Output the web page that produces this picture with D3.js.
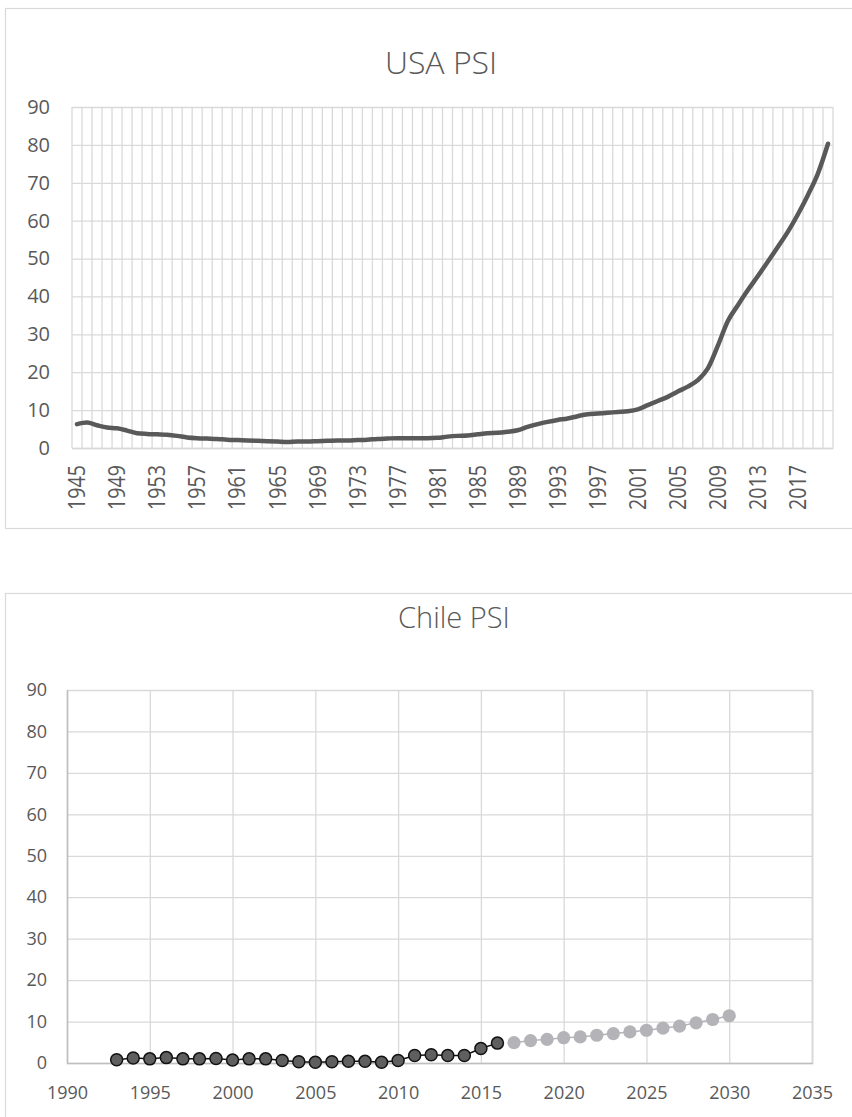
<!DOCTYPE html>
<html>
<head>
<meta charset="utf-8">
<script src="https://cdn.jsdelivr.net/npm/d3@7"></script>
<style>
  html, body { margin: 0; padding: 0; background: #fff; }
  svg { display: block; }
  text { font-family: "Open Sans", "DejaVu Sans", sans-serif; fill: #595959; }
</style>
</head>
<body>
<svg id="chart" width="852" height="1117"></svg>
<script>
// USA PSI, yearly 1945–2020
const usaYears = d3.range(1945, 2021);
const usaValues = [
  6.3, 6.7, 6.0, 5.4, 5.2, 4.6, 3.9, 3.7, 3.6, 3.5,
  3.2, 2.8, 2.6, 2.5, 2.4, 2.2, 2.1, 2.0, 1.9, 1.8,
  1.7, 1.6, 1.7, 1.7, 1.8, 1.9, 2.0, 2.0, 2.1, 2.2,
  2.4, 2.5, 2.6, 2.6, 2.6, 2.6, 2.7, 3.0, 3.2, 3.3,
  3.6, 3.9, 4.0, 4.3, 4.7, 5.6, 6.3, 6.9, 7.4, 7.8,
  8.4, 8.9, 9.1, 9.3, 9.5, 9.7, 10.2, 11.3, 12.4, 13.5,
  14.9, 16.2, 17.9, 21.0, 27.0, 33.5, 37.7, 41.7, 45.4, 49.2,
  53.1, 57.1, 61.7, 66.8, 72.5, 80.3
];
const usaTickYears = d3.range(1945, 2021, 4);
const usaYTicks = d3.range(0, 91, 10);

// Chile PSI: observed 1993–2016, projected 2017–2030
const chileYears = d3.range(1993, 2017);
const chileValues = [
  0.8, 1.2, 1.0, 1.3, 1.0, 1.0, 1.1, 0.7, 1.0, 1.0,
  0.6, 0.3, 0.2, 0.3, 0.4, 0.4, 0.2, 0.6, 1.8, 2.0,
  1.8, 1.8, 3.5, 4.8
];
const chileProjYears = d3.range(2017, 2031);
const chileProjValues = [
  4.9, 5.4, 5.7, 6.1, 6.3, 6.7, 7.1, 7.5, 7.9, 8.4,
  8.9, 9.7, 10.5, 11.4
];
const chileXTicks = d3.range(1990, 2036, 5);
const chileYTicks = d3.range(0, 91, 10);

const svg = d3.select("#chart");
const gridColor = "#d9d9d9";

// ---------- USA PSI ----------
{
  const left = 72, right = 833, top = 107, bottom = 448;
  svg.append("rect")
    .attr("x", 5.5).attr("y", 8.5).attr("width", 900).attr("height", 520)
    .attr("fill", "#fff").attr("stroke", gridColor).attr("stroke-width", 1.2);

  svg.append("text")
    .attr("x", 441).attr("y", 74)
    .attr("text-anchor", "middle")
    .style("font-size", "32px").style("font-weight", 300)
    .text("USA PSI");

  const x = d3.scaleBand().domain(usaYears).range([left, right]);
  const y = d3.scaleLinear().domain([0, 90]).range([bottom, top]);

  // vertical gridlines on category boundaries
  const bounds = usaYears.map(d => x(d)).concat([right]);
  svg.append("g").selectAll("line").data(bounds).join("line")
    .attr("x1", d => d).attr("x2", d => d)
    .attr("y1", top).attr("y2", bottom)
    .attr("stroke", gridColor).attr("stroke-width", 1.3);

  // horizontal gridlines + y labels
  const yAxis = d3.axisLeft(y).tickValues(usaYTicks).tickSize(-(right - left)).tickPadding(22);
  const gy = svg.append("g").attr("transform", `translate(${left},0)`).call(yAxis);
  gy.select(".domain").remove();
  gy.selectAll(".tick line").attr("stroke", gridColor).attr("stroke-width", 1.3);
  gy.selectAll(".tick text").style("font-size", "20px").attr("fill", "#595959")
    .attr("font-family", null);

  // category axis with rotated year labels
  const xAxis = d3.axisBottom(x).tickValues(usaTickYears).tickFormat(d3.format("d")).tickSize(0).tickPadding(0);
  const gx = svg.append("g").attr("transform", `translate(0,${bottom})`).call(xAxis);
  gx.select(".domain").attr("stroke", gridColor).attr("stroke-width", 1.5);
  gx.selectAll(".tick text")
    .attr("font-family", null)
    .style("font-size", "23px")
    .attr("text-anchor", "end")
    .attr("transform", "rotate(-90)")
    .attr("x", -17).attr("y", 0).attr("dy", "0.36em")
    .attr("textLength", 45).attr("lengthAdjust", "spacingAndGlyphs")
    .attr("fill", "#595959");

  const line = d3.line()
    .x((d, i) => x(usaYears[i]) + x.bandwidth() / 2)
    .y(d => y(d))
    .curve(d3.curveMonotoneX);
  svg.append("path").datum(usaValues)
    .attr("d", line)
    .attr("fill", "none").attr("stroke", "#595959")
    .attr("stroke-width", 4.5).attr("stroke-linecap", "round").attr("stroke-linejoin", "round");
}

// ---------- Chile PSI ----------
{
  const left = 67, right = 812, top = 690, bottom = 1063;
  svg.append("rect")
    .attr("x", 5.5).attr("y", 593.5).attr("width", 900).attr("height", 600)
    .attr("fill", "#fff").attr("stroke", gridColor).attr("stroke-width", 1.2);

  svg.append("text")
    .attr("x", 454).attr("y", 628)
    .attr("text-anchor", "middle")
    .style("font-size", "29px").style("font-weight", 300)
    .text("Chile PSI");

  const x = d3.scaleLinear().domain([1990, 2035]).range([left, right]);
  const y = d3.scaleLinear().domain([0, 90]).range([bottom, top]);

  const yAxis = d3.axisLeft(y).tickValues(chileYTicks).tickSize(-(right - left)).tickPadding(20);
  const gy = svg.append("g").attr("transform", `translate(${left},0)`).call(yAxis);
  gy.select(".domain").remove();
  gy.selectAll(".tick line").attr("stroke", gridColor).attr("stroke-width", 1.3);
  gy.selectAll(".tick text").style("font-size", "18px").attr("fill", "#595959")
    .attr("font-family", null);

  const xAxis = d3.axisBottom(x).tickValues(chileXTicks).tickFormat(d3.format("d"))
    .tickSize(-(bottom - top)).tickPadding(22);
  const gx = svg.append("g").attr("transform", `translate(0,${bottom})`).call(xAxis);
  gx.select(".domain").attr("stroke", "#bfbfbf").attr("stroke-width", 1.5);
  gx.selectAll(".tick line").attr("stroke", d => d === 1990 ? "#bfbfbf" : gridColor).attr("stroke-width", 1.3);
  gx.selectAll(".tick text")
    .attr("font-family", null)
    .style("font-size", "18px")
    .attr("dy", "0.35em").attr("y", 30)
    .attr("fill", "#595959");

  // projected series
  const projPts = chileProjYears.map((d, i) => [d, chileProjValues[i]]);
  svg.append("path").datum(projPts)
    .attr("d", d3.line().x(d => x(d[0])).y(d => y(d[1])))
    .attr("fill", "none").attr("stroke", "#b4b4b8").attr("stroke-width", 1.5);
  svg.append("g").selectAll("circle").data(projPts).join("circle")
    .attr("cx", d => x(d[0])).attr("cy", d => y(d[1])).attr("r", 6.6)
    .attr("fill", "#b4b4b8");

  // observed series
  const obsPts = chileYears.map((d, i) => [d, chileValues[i]]);
  svg.append("path").datum(obsPts)
    .attr("d", d3.line().x(d => x(d[0])).y(d => y(d[1])))
    .attr("fill", "none").attr("stroke", "#111").attr("stroke-width", 1.5);
  svg.append("g").selectAll("circle").data(obsPts).join("circle")
    .attr("cx", d => x(d[0])).attr("cy", d => y(d[1])).attr("r", 6)
    .attr("fill", "#5f5f5f").attr("stroke", "#111").attr("stroke-width", 1.5);
}
</script>
</body>
</html>
